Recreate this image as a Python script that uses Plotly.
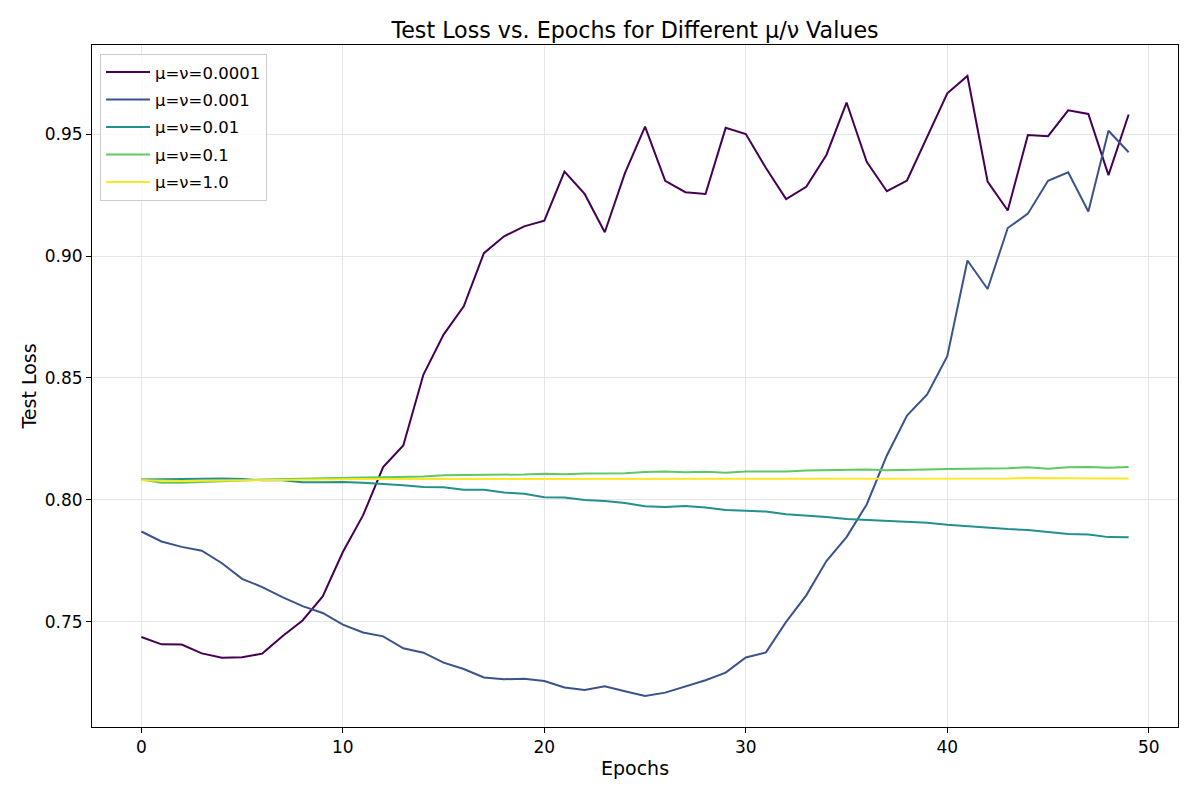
import plotly.graph_objects as go

epochs = list(range(50))

labels = ["μ=ν=0.0001", "μ=ν=0.001", "μ=ν=0.01", "μ=ν=0.1", "μ=ν=1.0"]
colors = ["#440154", "#3b528b", "#21918c", "#5ec962", "#fde725"]

loss_1e4 = [0.7437, 0.7407, 0.7406, 0.7370, 0.7352, 0.7354, 0.7369, 0.7440, 0.7505, 0.7604,
            0.7786, 0.7936, 0.8134, 0.8223, 0.8514, 0.8678, 0.8794, 0.9012, 0.9081, 0.9122,
            0.9145, 0.9347, 0.9255, 0.9098, 0.9340, 0.9531, 0.9309, 0.9262, 0.9255, 0.9526,
            0.9501, 0.9361, 0.9234, 0.9284, 0.9415, 0.9630, 0.9387, 0.9266, 0.9310, 0.9490,
            0.9668, 0.9739, 0.9306, 0.9187, 0.9497, 0.9492, 0.9598, 0.9583, 0.9332, 0.9581]

loss_1e3 = [0.7870, 0.7829, 0.7807, 0.7791, 0.7740, 0.7676, 0.7642, 0.7601, 0.7564, 0.7536,
            0.7488, 0.7456, 0.7440, 0.7391, 0.7373, 0.7332, 0.7306, 0.7271, 0.7264, 0.7266,
            0.7257, 0.7230, 0.7220, 0.7235, 0.7215, 0.7195, 0.7209, 0.7235, 0.7260, 0.7291,
            0.7353, 0.7374, 0.7499, 0.7608, 0.7749, 0.7847, 0.7981, 0.8182, 0.8346, 0.8432,
            0.8589, 0.8982, 0.8865, 0.9115, 0.9174, 0.9309, 0.9344, 0.9183, 0.9514, 0.9426]

loss_1e2 = [0.8083, 0.8084, 0.8088, 0.8087, 0.8087, 0.8085, 0.8080, 0.8080, 0.8072, 0.8072,
            0.8073, 0.8070, 0.8066, 0.8060, 0.8053, 0.8052, 0.8041, 0.8041, 0.8030, 0.8025,
            0.8011, 0.8010, 0.7999, 0.7995, 0.7987, 0.7974, 0.7971, 0.7975, 0.7969, 0.7958,
            0.7955, 0.7952, 0.7941, 0.7936, 0.7930, 0.7921, 0.7917, 0.7914, 0.7909, 0.7906,
            0.7898, 0.7891, 0.7887, 0.7880, 0.7876, 0.7867, 0.7860, 0.7858, 0.7847, 0.7846]

loss_1e1 = [0.8083, 0.8070, 0.8070, 0.8072, 0.8077, 0.8079, 0.8083, 0.8085, 0.8089, 0.8090,
            0.8092, 0.8092, 0.8093, 0.8094, 0.8096, 0.8101, 0.8101, 0.8101, 0.8102, 0.8104,
            0.8107, 0.8105, 0.8108, 0.8108, 0.8109, 0.8114, 0.8116, 0.8113, 0.8115, 0.8111,
            0.8116, 0.8116, 0.8116, 0.8120, 0.8121, 0.8122, 0.8124, 0.8121, 0.8124, 0.8124,
            0.8126, 0.8127, 0.8128, 0.8130, 0.8134, 0.8128, 0.8134, 0.8135, 0.8132, 0.8135]

loss_1e0 = [0.8080, 0.8077, 0.8077, 0.8078, 0.8079, 0.8080, 0.8082, 0.8082, 0.8083, 0.8084,
            0.8084, 0.8085, 0.8085, 0.8085, 0.8086, 0.8085, 0.8086, 0.8086, 0.8085, 0.8086,
            0.8086, 0.8087, 0.8087, 0.8088, 0.8087, 0.8087, 0.8087, 0.8087, 0.8087, 0.8087,
            0.8087, 0.8088, 0.8086, 0.8087, 0.8087, 0.8088, 0.8087, 0.8087, 0.8087, 0.8087,
            0.8087, 0.8088, 0.8088, 0.8088, 0.8090, 0.8089, 0.8089, 0.8085, 0.8087, 0.8087]

series = [loss_1e4, loss_1e3, loss_1e2, loss_1e1, loss_1e0]

fig = go.Figure()
for name, col, vals in zip(labels, colors, series):
    fig.add_trace(go.Scatter(x=epochs, y=vals, mode="lines", name=name,
                             legendgroup=name,
                             line=dict(color=col, width=2)))

axis_style = dict(
    showline=True, linecolor="black", linewidth=1, mirror=True,
    ticks="outside", ticklen=5, tickcolor="black",
    showgrid=True, gridcolor="#e6e6e6", gridwidth=1,
    zeroline=False, automargin=False,
    tickfont=dict(size=17, color="black"),
)

# page body has an 8px margin, so the figure is shrunk by that much
fig.update_layout(
    width=1192, height=792,
    paper_bgcolor="white", plot_bgcolor="white",
    font=dict(family="DejaVu Sans", color="black"),
    margin=dict(l=84, r=22, t=37, b=73),
    title=dict(text="Test Loss vs. Epochs for Different μ/ν Values",
               xref="paper", x=0.5, xanchor="center", y=0.972, yanchor="middle",
               font=dict(size=22.2)),
    legend=dict(x=0.0074, y=0.987, xanchor="left", yanchor="top",
                bgcolor="rgba(255,255,255,0.8)", bordercolor="#cccccc", borderwidth=1,
                tracegroupgap=3, itemwidth=44, font=dict(size=16.5)),
    showlegend=True,
)
fig.update_xaxes(axis_style, range=[-2.45, 51.45], dtick=10,
                 title=dict(text="Epochs", font=dict(size=19), standoff=5))
fig.update_yaxes(axis_style, range=[0.7068, 0.9866], dtick=0.05, tickformat=".2f",
                 title=dict(text="Test Loss", font=dict(size=19), standoff=3))

fig.write_html("out.html")
